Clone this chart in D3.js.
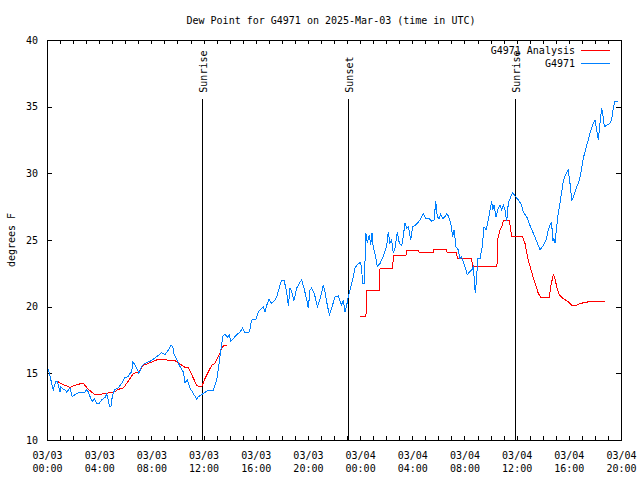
<!DOCTYPE html>
<html><head><meta charset="utf-8">
<script src="https://cdn.jsdelivr.net/npm/d3@7"></script>
<style>
body{margin:0;background:#fff}
svg text{font-family:"DejaVu Sans Mono","Liberation Mono",monospace;font-size:10px;fill:#000}
svg line, svg rect, svg path{shape-rendering:crispEdges}
</style>
</head><body>
<svg id="c" width="640" height="480"></svg>
<script>
// ---------- data ----------
const title = "Dew Point for G4971 on 2025-Mar-03 (time in UTC)";
const yLabel = "degrees F";
const seriesNames = ["G4971 Analysis", "G4971"];
const startUTC = Date.UTC(2025, 2, 3, 0, 0);
const spanHours = 44;
const yTicks = [10, 15, 20, 25, 30, 35, 40];
const xTickHours = [0, 4, 8, 12, 16, 20, 24, 28, 32, 36, 40, 44];

// observed dew point (hours since 03/03 00:00 UTC, degrees F)
const obsHours = [0.08,0.18,0.48,0.67,0.79,0.87,1.00,1.07,1.25,1.38,1.51,1.76,1.94,2.15,2.40,2.91,3.04,3.17,3.30,3.47,3.63,3.81,4.01,4.19,4.45,4.58,4.70,4.78,4.91,4.98,5.08,5.21,5.47,5.60,5.73,5.98,6.23,6.36,6.49,6.57,6.67,6.88,7.05,7.21,7.31,7.51,7.90,8.41,8.79,9.05,9.30,9.48,9.64,9.74,9.89,10.20,10.45,10.58,10.75,10.96,11.21,11.48,11.60,11.86,12.36,12.75,13.01,13.26,13.47,13.64,13.82,13.97,14.10,14.28,14.54,14.79,15.00,15.18,15.51,15.69,16.02,16.20,16.46,16.58,16.71,16.84,17.02,17.22,17.48,17.61,17.86,17.99,18.17,18.37,18.50,18.63,18.76,18.93,19.14,19.34,19.52,19.70,19.91,20.03,20.16,20.29,20.49,20.72,20.93,21.18,21.31,21.49,21.64,21.82,22.08,22.33,22.46,22.59,22.71,22.84,22.97,23.10,23.23,23.36,23.48,23.61,23.86,24.05,24.12,24.20,24.32,24.45,24.55,24.71,24.81,24.91,25.01,25.14,25.32,25.53,25.78,26.04,26.16,26.29,26.42,26.55,26.68,26.85,27.01,27.19,27.31,27.44,27.57,27.70,27.88,28.03,28.21,28.39,28.59,28.85,29.05,29.31,29.49,29.67,29.80,29.92,30.05,30.18,30.33,30.51,30.64,30.76,30.95,31.10,31.20,31.35,31.53,31.66,31.79,31.91,32.04,32.22,32.37,32.56,32.68,32.75,32.83,32.94,33.02,33.19,33.35,33.50,33.65,33.83,33.96,34.09,34.17,34.27,34.42,34.59,34.73,34.86,34.98,35.11,35.24,35.36,35.55,35.70,35.87,36.13,36.39,36.51,36.77,37.02,37.28,37.54,37.79,38.04,38.25,38.43,38.61,38.69,38.76,38.86,38.94,39.07,39.19,39.32,39.45,39.58,39.71,39.84,39.96,40.09,40.22,40.34,40.47,40.60,40.73,40.86,40.99,41.11,41.24,41.37,41.49,41.62,41.75,41.88,42.01,42.14,42.26,42.39,42.52,42.60,42.72,42.90,43.16,43.29,43.41,43.54,43.79];
const obsValues = [15.3,15.0,13.75,14.4,14.4,14.1,13.6,14.0,13.8,13.75,13.6,13.9,13.25,13.4,13.55,13.6,13.8,13.6,13.25,12.9,13.1,12.75,12.75,13.0,13.2,13.45,13.0,12.55,12.55,13.1,13.5,13.8,13.9,14.1,14.25,14.7,14.75,15.0,15.1,15.85,15.75,15.4,15.0,15.4,15.6,15.75,15.9,16.25,16.55,16.4,16.75,17.1,17.0,16.4,16.15,15.5,15.1,14.3,14.5,13.9,13.5,13.05,13.25,13.4,13.75,13.75,14.5,16.25,17.75,17.95,17.7,17.9,17.4,17.6,17.9,18.1,18.4,18.05,18.1,19.0,19.05,19.6,19.9,20.0,19.6,20.1,20.55,20.25,20.5,20.75,21.6,22.0,22.0,21.1,20.05,21.4,21.1,20.45,21.4,21.75,22.0,21.4,20.5,19.9,21.25,21.4,21.0,20.0,20.6,21.6,21.1,20.1,19.4,19.9,20.75,20.8,20.45,20.1,20.5,19.6,20.1,20.75,21.25,21.75,22.25,22.9,23.25,23.3,22.75,21.75,21.75,25.5,24.75,25.4,24.6,25.55,24.4,24.0,23.0,23.25,23.75,24.6,25.6,24.75,25.0,24.0,24.4,25.6,24.75,24.6,25.25,26.3,25.9,26.0,25.0,26.0,26.1,26.25,26.5,26.95,26.6,26.6,26.4,26.5,27.9,26.75,26.6,26.95,26.6,26.75,26.95,26.8,26.25,25.25,25.75,24.5,24.25,23.6,23.75,23.35,23.0,22.4,22.6,22.75,23.0,22.1,21.0,22.25,23.6,23.6,24.4,26.0,25.75,26.5,27.25,27.9,27.25,27.6,26.75,27.4,27.6,27.25,27.6,27.25,26.4,27.75,28.25,28.55,28.3,28.0,27.6,27.1,26.75,26.1,25.5,24.9,24.25,24.6,25.0,25.75,26.25,26.3,24.9,25.1,24.75,26.0,27.0,27.75,28.6,29.4,29.8,30.05,30.25,29.25,28.0,28.2,28.6,29.0,29.25,29.75,30.4,31.15,31.6,32.1,32.5,33.0,33.4,33.75,34.0,33.25,32.5,33.75,34.9,34.5,33.5,33.6,33.75,34.1,34.9,35.4,35.4];

// analysis dew point (null = no analysis)
const anaHours = [0.77,1.38,1.76,2.15,2.66,2.78,3.17,3.68,4.19,4.83,5.08,5.47,5.85,6.11,6.62,7.00,7.38,7.90,8.15,8.53,9.18,9.81,10.20,10.58,10.83,11.09,11.48,11.67,11.86,12.11,12.44,12.63,12.88,13.21,13.39,13.57,13.82,18.0,23.99,24.45,24.51,25.47,25.53,26.50,26.55,27.52,27.57,28.46,28.52,29.61,29.67,30.59,30.69,31.41,31.45,32.56,32.60,34.49,34.55,34.73,34.86,34.98,35.44,35.62,36.46,36.64,36.89,37.15,37.41,37.66,37.84,38.50,38.61,38.81,38.94,39.07,39.27,39.58,39.84,40.09,40.22,40.60,40.86,41.24,41.62,42.77];
const anaValues = [14.4,14.1,13.95,14.1,14.25,14.25,13.8,13.4,13.45,13.55,13.55,13.8,13.9,14.25,15.0,15.1,15.6,15.8,15.9,16.05,16.0,15.95,15.7,15.45,15.45,14.9,14.1,14.0,14.0,14.6,15.25,15.6,15.75,16.4,16.9,17.1,17.1,null,19.3,19.3,21.25,21.25,22.9,22.9,23.85,23.85,24.25,24.25,24.1,24.1,24.3,24.3,24.05,24.05,23.6,23.6,23.05,23.05,25.1,25.75,26.0,26.45,26.45,25.25,25.25,24.75,23.5,22.6,21.75,21.0,20.7,20.7,21.5,22.4,22.1,21.5,20.9,20.6,20.45,20.25,20.1,20.1,20.25,20.3,20.4,20.4];

const sunLabels = ["Sunrise", "Sunset", "Sunrise"];
const sunHours = [11.88, 23.07, 35.87];
const sunLineTop = 35.6;

// ---------- layout ----------
const W = 640, H = 480;
const m = {left: 47, right: 19, top: 40, bottom: 40};
const pw = W - m.left - m.right, ph = H - m.top - m.bottom;
const toDate = h => new Date(startUTC + h * 3600e3);

const svg = d3.select("#c");
const x = d3.scaleUtc().domain([toDate(0), toDate(spanHours)]).range([m.left, m.left + pw]);
const y = d3.scaleLinear().domain([10, 40]).range([m.top + ph, m.top]);

// title
svg.append("text").attr("x", 331).attr("y", 24).attr("text-anchor", "middle").text(title);
// y label
svg.append("text").attr("transform", `translate(15,${m.top + ph/2}) rotate(-90)`)
  .attr("text-anchor", "middle").text(yLabel);

// axes
const hourTicks = d3.range(0, spanHours + 1).map(toDate);
const fmtD = d3.utcFormat("%m/%d"), fmtT = d3.utcFormat("%H:%M");

svg.append("g").attr("transform", `translate(0,${m.top + ph})`)
  .call(d3.axisBottom(x).tickValues(hourTicks).tickSize(-4).tickFormat(""));
const xlab = svg.append("g").attr("transform", `translate(0,${m.top + ph})`)
  .call(d3.axisBottom(x).tickValues(xTickHours.map(toDate)).tickSize(0).tickPadding(0).tickFormat(""));
xlab.selectAll(".tick").each(function(d){
  const t = d3.select(this).append("text").attr("text-anchor","middle").attr("fill","#000");
  t.append("tspan").attr("x",0).attr("y",19).text(fmtD(d));
  t.append("tspan").attr("x",0).attr("y",32).text(fmtT(d));
});
xlab.select(".domain").remove();
svg.append("g").attr("transform", `translate(0,${m.top})`)
  .call(d3.axisTop(x).tickValues(hourTicks).tickSize(-4).tickFormat(""));

const yl = svg.append("g").attr("transform", `translate(${m.left},0)`)
  .call(d3.axisLeft(y).tickValues(yTicks).tickSize(-5).tickPadding(9).tickFormat(d3.format("d")));
svg.append("g").attr("transform", `translate(${m.left + pw},0)`)
  .call(d3.axisRight(y).tickValues(yTicks).tickSize(-5).tickFormat(""));
svg.selectAll(".domain").attr("stroke","#000");
svg.selectAll(".tick line").attr("stroke","#000");
svg.selectAll(".tick text").attr("font-family",null).attr("font-size",null);
yl.selectAll(".tick text").attr("fill","#000");
svg.append("rect").attr("x", m.left + 0.5).attr("y", m.top + 0.5)
  .attr("width", pw).attr("height", ph).attr("fill","none").attr("stroke","#000");

// sunrise / sunset markers
sunHours.forEach((h, i) => {
  const xx = Math.round(x(toDate(h))) + 0.5;
  svg.append("line").attr("x1", xx).attr("x2", xx).attr("y1", y(sunLineTop)).attr("y2", m.top + ph)
    .attr("stroke", "#000").attr("stroke-width", 1);
  svg.append("text").attr("transform", `translate(${xx + 4},${y(sunLineTop) - 6}) rotate(-90)`)
    .attr("text-anchor", "start").text(sunLabels[i]);
});

// lines
svg.append("clipPath").attr("id","pc").append("rect")
  .attr("x", m.left).attr("y", m.top).attr("width", pw).attr("height", ph);
const line = d3.line().defined(d => d[1] != null).x(d => x(toDate(d[0]))).y(d => y(d[1]));
svg.append("path").datum(anaHours.map((h,i)=>[h, anaValues[i]]))
  .attr("d", line).attr("fill","none").attr("stroke","#ff0000").attr("stroke-width",1).attr("clip-path","url(#pc)");
svg.append("path").datum(obsHours.map((h,i)=>[h, obsValues[i]]))
  .attr("d", line).attr("fill","none").attr("stroke","#0080ff").attr("stroke-width",1).attr("clip-path","url(#pc)");

// legend
const colors = ["#ff0000", "#0080ff"];
seriesNames.forEach((n, i) => {
  const ly = 50 + i * 13;
  svg.append("text").attr("x", 575).attr("y", ly + 4).attr("text-anchor","end").text(n);
  svg.append("line").attr("x1", 581).attr("x2", 610).attr("y1", ly + 0.5).attr("y2", ly + 0.5)
    .attr("stroke", colors[i]).attr("stroke-width", 1);
});
</script>
</body></html>
